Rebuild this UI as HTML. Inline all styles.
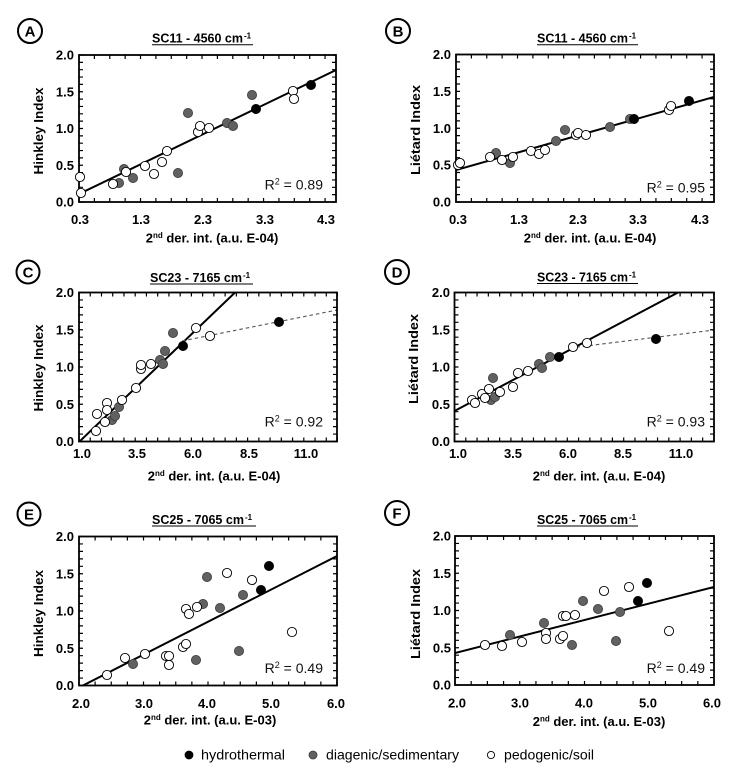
<!DOCTYPE html>
<html><head><meta charset="utf-8"><style>
html,body{margin:0;padding:0;background:#fff;}
svg{display:block;font-family:"Liberation Sans",Arial,sans-serif;}
.tl{font-size:13px;font-weight:bold;fill:#000;}
.ax{font-size:13px;font-weight:bold;fill:#000;}
.r2{font-size:14px;fill:#111;}
.ti{font-size:12.5px;font-weight:bold;fill:#000;}
.lg{font-size:14px;fill:#000;}
.w{fill:#fff;stroke:#000;stroke-width:0.9;}
.g{fill:#616161;stroke:#3a3a3a;stroke-width:0.8;}
.b{fill:#000;stroke:#000;stroke-width:0.8;}
.pt circle{r:4.6px;}
.box{fill:none;stroke:#000;stroke-width:1.8;}
.tk{stroke:#000;stroke-width:4;fill:none;}
.fit{stroke:#000;stroke-width:2;fill:none;}
.dash{stroke:#555;stroke-width:1.1;stroke-dasharray:3.5 3;fill:none;}
.lab{fill:none;stroke:#000;stroke-width:2;}
.lt{font-size:15px;font-weight:bold;fill:#000;}
</style></head><body>
<svg width="735" height="778" viewBox="0 0 735 778" xmlns="http://www.w3.org/2000/svg">
<rect width="735" height="778" fill="#fff"/>

<!-- ================= PANEL A ================= -->
<circle class="lab" cx="30" cy="31" r="12"/>
<text class="lt" x="30" y="36.5" text-anchor="middle">A</text>
<text class="ti" x="152" y="42.5" textLength="91" lengthAdjust="spacingAndGlyphs">SC11 - 4560 cm</text>
<text x="244" y="38.5" font-size="8" font-weight="bold">-1</text>
<line x1="152" y1="44.8" x2="253" y2="44.8" stroke="#000" stroke-width="1"/>
<clipPath id="cA"><rect x="79" y="55" width="257" height="147"/></clipPath>
<g clip-path="url(#cA)">
<line class="fit" x1="79" y1="194" x2="336" y2="70"/>
</g>
<line class="tk" x1="78.4" y1="200" x2="337" y2="200" stroke-dasharray="1.2 14.18"/>
<line class="tk" x1="78.4" y1="57" x2="337" y2="57" stroke-dasharray="1.2 14.18"/>
<line class="tk" x1="81" y1="202.6" x2="81" y2="54" stroke-dasharray="1.2 6.15"/>
<line class="tk" x1="334" y1="202.6" x2="334" y2="54" stroke-dasharray="1.2 6.15"/>
<rect class="box" x="79" y="55" width="257" height="147"/>
<g class="pt">
<circle class="g" cx="119" cy="183" r="4.6"/><circle class="g" cx="124" cy="169" r="4.6"/><circle class="g" cx="133" cy="178" r="4.6"/><circle class="g" cx="178" cy="173" r="4.6"/><circle class="g" cx="188" cy="113" r="4.6"/><circle class="g" cx="227" cy="123" r="4.6"/><circle class="g" cx="233" cy="126" r="4.6"/><circle class="g" cx="252" cy="95" r="4.6"/>
<circle class="w" cx="80" cy="177" r="4.6"/><circle class="w" cx="81" cy="193" r="4.6"/><circle class="w" cx="113" cy="184" r="4.6"/><circle class="w" cx="126" cy="172" r="4.6"/><circle class="w" cx="145" cy="166" r="4.6"/><circle class="w" cx="154" cy="174" r="4.6"/><circle class="w" cx="162" cy="162" r="4.6"/><circle class="w" cx="167" cy="151" r="4.6"/><circle class="w" cx="198" cy="132" r="4.6"/><circle class="w" cx="200" cy="126" r="4.6"/><circle class="w" cx="209" cy="128" r="4.6"/><circle class="w" cx="293" cy="91" r="4.6"/><circle class="w" cx="294" cy="99" r="4.6"/>
<circle class="b" cx="256" cy="109" r="4.6"/><circle class="b" cx="311" cy="85" r="4.6"/>
</g>
<g class="tl" text-anchor="end">
<text x="74" y="59.5">2.0</text><text x="74" y="96.3">1.5</text><text x="74" y="133">1.0</text><text x="74" y="169.8">0.5</text><text x="74" y="206.5">0.0</text>
</g>
<g class="tl" text-anchor="middle">
<text x="80" y="224">0.3</text><text x="141" y="224">1.3</text><text x="203" y="224">2.3</text><text x="265" y="224">3.3</text><text x="326" y="224">4.3</text>
</g>
<text class="ax" transform="translate(43,131) rotate(-90)" text-anchor="middle" textLength="87" lengthAdjust="spacingAndGlyphs">Hinkley Index</text>
<text class="ax" x="212" y="242.5" text-anchor="middle">2<tspan font-size="8" dy="-4.5">nd</tspan><tspan dy="4.5"> der. int. (a.u. E-04)</tspan></text>
<text class="r2" x="323" y="189.5" text-anchor="end">R<tspan font-size="9" dy="-5">2</tspan><tspan dy="5"> = 0.89</tspan></text>

<!-- ================= PANEL B ================= -->
<circle class="lab" cx="398" cy="31" r="12"/>
<text class="lt" x="398" y="36.5" text-anchor="middle">B</text>
<text class="ti" x="537" y="42.5" textLength="91" lengthAdjust="spacingAndGlyphs">SC11 - 4560 cm</text>
<text x="629" y="38.5" font-size="8" font-weight="bold">-1</text>
<line x1="537" y1="44.8" x2="638" y2="44.8" stroke="#000" stroke-width="1"/>
<clipPath id="cB"><rect x="456" y="54.5" width="258" height="147.5"/></clipPath>
<g clip-path="url(#cB)">
<line class="fit" x1="456" y1="170" x2="714" y2="97"/>
</g>
<line class="tk" x1="455.4" y1="200" x2="715" y2="200" stroke-dasharray="1.2 14.18"/>
<line class="tk" x1="455.4" y1="56.5" x2="715" y2="56.5" stroke-dasharray="1.2 14.18"/>
<line class="tk" x1="458" y1="202.6" x2="458" y2="53.5" stroke-dasharray="1.2 6.175"/>
<line class="tk" x1="712" y1="202.6" x2="712" y2="53.5" stroke-dasharray="1.2 6.175"/>
<rect class="box" x="456" y="54.5" width="258" height="147.5"/>
<g class="pt">
<circle class="g" cx="496" cy="153" r="4.6"/><circle class="g" cx="510" cy="163" r="4.6"/><circle class="g" cx="556" cy="141" r="4.6"/><circle class="g" cx="565" cy="130" r="4.6"/><circle class="g" cx="610" cy="127" r="4.6"/><circle class="g" cx="630" cy="119" r="4.6"/>
<circle class="w" cx="458" cy="165" r="4.6"/><circle class="w" cx="460" cy="163" r="4.6"/><circle class="w" cx="490" cy="157" r="4.6"/><circle class="w" cx="502" cy="160" r="4.6"/><circle class="w" cx="513" cy="157" r="4.6"/><circle class="w" cx="531" cy="151" r="4.6"/><circle class="w" cx="539" cy="154" r="4.6"/><circle class="w" cx="545" cy="150" r="4.6"/><circle class="w" cx="576" cy="135" r="4.6"/><circle class="w" cx="578" cy="133" r="4.6"/><circle class="w" cx="586" cy="135" r="4.6"/><circle class="w" cx="669" cy="110" r="4.6"/><circle class="w" cx="671" cy="106" r="4.6"/>
<circle class="b" cx="634" cy="119" r="4.6"/><circle class="b" cx="689" cy="101" r="4.6"/>
</g>
<g class="tl" text-anchor="end">
<text x="451" y="59">2.0</text><text x="451" y="95.9">1.5</text><text x="451" y="132.8">1.0</text><text x="451" y="169.6">0.5</text><text x="451" y="206.5">0.0</text>
</g>
<g class="tl" text-anchor="middle">
<text x="458" y="224">0.3</text><text x="519" y="224">1.3</text><text x="578" y="224">2.3</text><text x="638" y="224">3.3</text><text x="700" y="224">4.3</text>
</g>
<text class="ax" transform="translate(420,130) rotate(-90)" text-anchor="middle" textLength="90" lengthAdjust="spacingAndGlyphs">Liétard Index</text>
<text class="ax" x="590" y="242.5" text-anchor="middle">2<tspan font-size="8" dy="-4.5">nd</tspan><tspan dy="4.5"> der. int. (a.u. E-04)</tspan></text>
<text class="r2" x="705" y="192.5" text-anchor="end">R<tspan font-size="9" dy="-5">2</tspan><tspan dy="5"> = 0.95</tspan></text>

<!-- ================= PANEL C ================= -->
<circle class="lab" cx="28" cy="272" r="11.5"/>
<text class="lt" x="28" y="277.5" text-anchor="middle">C</text>
<text class="ti" x="150" y="282" textLength="92" lengthAdjust="spacingAndGlyphs">SC23 - 7165 cm</text>
<text x="243" y="278" font-size="8" font-weight="bold">-1</text>
<line x1="150" y1="284" x2="253" y2="284" stroke="#000" stroke-width="1"/>
<clipPath id="cC"><rect x="79" y="292.5" width="258" height="149"/></clipPath>
<g clip-path="url(#cC)">
<line class="fit" x1="79" y1="442" x2="235" y2="292.5"/>
<line class="dash" x1="182" y1="341" x2="337" y2="310"/>
</g>
<line class="tk" x1="78.4" y1="439.5" x2="338" y2="439.5" stroke-dasharray="1.2 10.04"/>
<line class="tk" x1="78.4" y1="294.5" x2="338" y2="294.5" stroke-dasharray="1.2 10.04"/>
<line class="tk" x1="81" y1="442.1" x2="81" y2="291.5" stroke-dasharray="1.2 6.25"/>
<line class="tk" x1="335" y1="442.1" x2="335" y2="291.5" stroke-dasharray="1.2 6.25"/>
<rect class="box" x="79" y="292.5" width="258" height="149"/>
<g class="pt">
<circle class="g" cx="112" cy="420" r="4.6"/><circle class="g" cx="115" cy="416" r="4.6"/><circle class="g" cx="119" cy="407" r="4.6"/><circle class="g" cx="160" cy="360" r="4.6"/><circle class="g" cx="163" cy="364" r="4.6"/><circle class="g" cx="165" cy="351" r="4.6"/><circle class="g" cx="173" cy="333" r="4.6"/>
<circle class="w" cx="96" cy="431" r="4.6"/><circle class="w" cx="97" cy="414" r="4.6"/><circle class="w" cx="105" cy="422" r="4.6"/><circle class="w" cx="107" cy="403" r="4.6"/><circle class="w" cx="107" cy="410" r="4.6"/><circle class="w" cx="122" cy="400" r="4.6"/><circle class="w" cx="136" cy="388" r="4.6"/><circle class="w" cx="141" cy="369" r="4.6"/><circle class="w" cx="141" cy="365" r="4.6"/><circle class="w" cx="151" cy="364" r="4.6"/><circle class="w" cx="196" cy="328" r="4.6"/><circle class="w" cx="210" cy="336" r="4.6"/>
<circle class="b" cx="183" cy="346" r="4.6"/><circle class="b" cx="279" cy="322" r="4.6"/>
</g>
<g class="tl" text-anchor="end">
<text x="74" y="297">2.0</text><text x="74" y="334.3">1.5</text><text x="74" y="371.5">1.0</text><text x="74" y="408.8">0.5</text><text x="74" y="446">0.0</text>
</g>
<g class="tl" text-anchor="middle">
<text x="82" y="458">1.0</text><text x="137" y="458">3.5</text><text x="193" y="458">6.0</text><text x="249" y="458">8.5</text><text x="306" y="458">11.0</text>
</g>
<text class="ax" transform="translate(43,368) rotate(-90)" text-anchor="middle" textLength="87" lengthAdjust="spacingAndGlyphs">Hinkley Index</text>
<text class="ax" x="214" y="480.5" text-anchor="middle">2<tspan font-size="8" dy="-4.5">nd</tspan><tspan dy="4.5"> der. int. (a.u. E-04)</tspan></text>
<text class="r2" x="323" y="426.7" text-anchor="end">R<tspan font-size="9" dy="-5">2</tspan><tspan dy="5"> = 0.92</tspan></text>

<!-- ================= PANEL D ================= -->
<circle class="lab" cx="397" cy="272" r="12"/>
<text class="lt" x="397" y="277.5" text-anchor="middle">D</text>
<text class="ti" x="537" y="281.5" textLength="91" lengthAdjust="spacingAndGlyphs">SC23 - 7165 cm</text>
<text x="629" y="277.5" font-size="8" font-weight="bold">-1</text>
<line x1="537" y1="283.5" x2="638" y2="283.5" stroke="#000" stroke-width="1"/>
<clipPath id="cD"><rect x="454.5" y="292.5" width="259.5" height="149"/></clipPath>
<g clip-path="url(#cD)">
<line class="fit" x1="454.5" y1="411" x2="678" y2="292.5"/>
<line class="dash" x1="570" y1="348" x2="714" y2="330"/>
</g>
<line class="tk" x1="453.9" y1="439.5" x2="715" y2="439.5" stroke-dasharray="1.2 10.08"/>
<line class="tk" x1="453.9" y1="294.5" x2="715" y2="294.5" stroke-dasharray="1.2 10.08"/>
<line class="tk" x1="456.5" y1="442.1" x2="456.5" y2="291.5" stroke-dasharray="1.2 6.25"/>
<line class="tk" x1="712" y1="442.1" x2="712" y2="291.5" stroke-dasharray="1.2 6.25"/>
<rect class="box" x="454.5" y="292.5" width="259.5" height="149"/>
<g class="pt">
<circle class="g" cx="493" cy="378" r="4.6"/><circle class="g" cx="491" cy="400" r="4.6"/><circle class="g" cx="495" cy="397" r="4.6"/><circle class="g" cx="539" cy="364" r="4.6"/><circle class="g" cx="542" cy="368" r="4.6"/><circle class="g" cx="550" cy="357" r="4.6"/>
<circle class="w" cx="472" cy="400" r="4.6"/><circle class="w" cx="475" cy="403" r="4.6"/><circle class="w" cx="482" cy="394" r="4.6"/><circle class="w" cx="485" cy="398" r="4.6"/><circle class="w" cx="489" cy="389" r="4.6"/><circle class="w" cx="500" cy="392" r="4.6"/><circle class="w" cx="513" cy="387" r="4.6"/><circle class="w" cx="518" cy="373" r="4.6"/><circle class="w" cx="528" cy="371" r="4.6"/><circle class="w" cx="573" cy="347" r="4.6"/><circle class="w" cx="587" cy="343" r="4.6"/>
<circle class="b" cx="559" cy="357" r="4.6"/><circle class="b" cx="656" cy="339" r="4.6"/>
</g>
<g class="tl" text-anchor="end">
<text x="450" y="297">2.0</text><text x="450" y="334.3">1.5</text><text x="450" y="371.5">1.0</text><text x="450" y="408.8">0.5</text><text x="450" y="446">0.0</text>
</g>
<g class="tl" text-anchor="middle">
<text x="458" y="458">1.0</text><text x="513" y="458">3.5</text><text x="568" y="458">6.0</text><text x="623" y="458">8.5</text><text x="681" y="458">11.0</text>
</g>
<text class="ax" transform="translate(418,359) rotate(-90)" text-anchor="middle" textLength="90" lengthAdjust="spacingAndGlyphs">Liétard Index</text>
<text class="ax" x="599" y="480.5" text-anchor="middle">2<tspan font-size="8" dy="-4.5">nd</tspan><tspan dy="4.5"> der. int. (a.u. E-04)</tspan></text>
<text class="r2" x="705" y="426.7" text-anchor="end">R<tspan font-size="9" dy="-5">2</tspan><tspan dy="5"> = 0.93</tspan></text>

<!-- ================= PANEL E ================= -->
<circle class="lab" cx="29" cy="514" r="11.5"/>
<text class="lt" x="29" y="519.5" text-anchor="middle">E</text>
<text class="ti" x="152" y="524" textLength="92" lengthAdjust="spacingAndGlyphs">SC25 - 7065 cm</text>
<text x="245" y="520" font-size="8" font-weight="bold">-1</text>
<line x1="152" y1="526" x2="256" y2="526" stroke="#000" stroke-width="1"/>
<clipPath id="cE"><rect x="79" y="536.5" width="258" height="149"/></clipPath>
<g clip-path="url(#cE)">
<line class="fit" x1="82" y1="686" x2="337" y2="556"/>
</g>
<line class="tk" x1="78.4" y1="683.5" x2="338" y2="683.5" stroke-dasharray="1.2 14.925"/>
<line class="tk" x1="78.4" y1="538.5" x2="338" y2="538.5" stroke-dasharray="1.2 14.925"/>
<line class="tk" x1="81" y1="686.1" x2="81" y2="535.5" stroke-dasharray="1.2 6.25"/>
<line class="tk" x1="335" y1="686.1" x2="335" y2="535.5" stroke-dasharray="1.2 6.25"/>
<rect class="box" x="79" y="536.5" width="258" height="149"/>
<g class="pt">
<circle class="g" cx="133" cy="664" r="4.6"/><circle class="g" cx="196" cy="660" r="4.6"/><circle class="g" cx="203" cy="604" r="4.6"/><circle class="g" cx="207" cy="577" r="4.6"/><circle class="g" cx="220" cy="608" r="4.6"/><circle class="g" cx="239" cy="651" r="4.6"/><circle class="g" cx="243" cy="595" r="4.6"/>
<circle class="w" cx="107" cy="675" r="4.6"/><circle class="w" cx="125" cy="658" r="4.6"/><circle class="w" cx="145" cy="654" r="4.6"/><circle class="w" cx="166" cy="656" r="4.6"/><circle class="w" cx="169" cy="656" r="4.6"/><circle class="w" cx="169" cy="665" r="4.6"/><circle class="w" cx="183" cy="647" r="4.6"/><circle class="w" cx="186" cy="644" r="4.6"/><circle class="w" cx="186" cy="609" r="4.6"/><circle class="w" cx="189" cy="614" r="4.6"/><circle class="w" cx="197" cy="607" r="4.6"/><circle class="w" cx="227" cy="573" r="4.6"/><circle class="w" cx="252" cy="580" r="4.6"/><circle class="w" cx="292" cy="632" r="4.6"/>
<circle class="b" cx="261" cy="590" r="4.6"/><circle class="b" cx="269" cy="566" r="4.6"/>
</g>
<g class="tl" text-anchor="end">
<text x="74" y="541">2.0</text><text x="74" y="578.3">1.5</text><text x="74" y="615.5">1.0</text><text x="74" y="652.8">0.5</text><text x="74" y="690">0.0</text>
</g>
<g class="tl" text-anchor="middle">
<text x="81" y="708">2.0</text><text x="144" y="708">3.0</text><text x="207" y="708">4.0</text><text x="271" y="708">5.0</text><text x="336" y="708">6.0</text>
</g>
<text class="ax" transform="translate(43,613.5) rotate(-90)" text-anchor="middle" textLength="87" lengthAdjust="spacingAndGlyphs">Hinkley Index</text>
<text class="ax" x="210" y="724.5" text-anchor="middle">2<tspan font-size="8" dy="-4.5">nd</tspan><tspan dy="4.5"> der. int. (a.u. E-03)</tspan></text>
<text class="r2" x="323" y="673" text-anchor="end">R<tspan font-size="9" dy="-5">2</tspan><tspan dy="5"> = 0.49</tspan></text>

<!-- ================= PANEL F ================= -->
<circle class="lab" cx="397" cy="513" r="12"/>
<text class="lt" x="397" y="518.5" text-anchor="middle">F</text>
<text class="ti" x="537" y="524" textLength="91" lengthAdjust="spacingAndGlyphs">SC25 - 7065 cm</text>
<text x="629" y="520" font-size="8" font-weight="bold">-1</text>
<line x1="537" y1="526" x2="638" y2="526" stroke="#000" stroke-width="1"/>
<clipPath id="cF"><rect x="455" y="536" width="259" height="149"/></clipPath>
<g clip-path="url(#cF)">
<line class="fit" x1="455" y1="653" x2="714" y2="587"/>
</g>
<line class="tk" x1="454.4" y1="683" x2="715" y2="683" stroke-dasharray="1.2 14.99"/>
<line class="tk" x1="454.4" y1="538" x2="715" y2="538" stroke-dasharray="1.2 14.99"/>
<line class="tk" x1="457" y1="685.6" x2="457" y2="535" stroke-dasharray="1.2 6.25"/>
<line class="tk" x1="712" y1="685.6" x2="712" y2="535" stroke-dasharray="1.2 6.25"/>
<rect class="box" x="455" y="536" width="259" height="149"/>
<g class="pt">
<circle class="g" cx="510" cy="635" r="4.6"/><circle class="g" cx="544" cy="623" r="4.6"/><circle class="g" cx="572" cy="645" r="4.6"/><circle class="g" cx="583" cy="601" r="4.6"/><circle class="g" cx="598" cy="609" r="4.6"/><circle class="g" cx="616" cy="641" r="4.6"/><circle class="g" cx="620" cy="612" r="4.6"/>
<circle class="w" cx="485" cy="645" r="4.6"/><circle class="w" cx="502" cy="646" r="4.6"/><circle class="w" cx="522" cy="642" r="4.6"/><circle class="w" cx="546" cy="633" r="4.6"/><circle class="w" cx="546" cy="639" r="4.6"/><circle class="w" cx="560" cy="639" r="4.6"/><circle class="w" cx="563" cy="636" r="4.6"/><circle class="w" cx="563" cy="616" r="4.6"/><circle class="w" cx="566" cy="616" r="4.6"/><circle class="w" cx="575" cy="615" r="4.6"/><circle class="w" cx="604" cy="591" r="4.6"/><circle class="w" cx="629" cy="587" r="4.6"/><circle class="w" cx="669" cy="631" r="4.6"/>
<circle class="b" cx="638" cy="601" r="4.6"/><circle class="b" cx="647" cy="583" r="4.6"/>
</g>
<g class="tl" text-anchor="end">
<text x="451" y="540.5">2.0</text><text x="451" y="577.8">1.5</text><text x="451" y="615">1.0</text><text x="451" y="652.3">0.5</text><text x="451" y="689.5">0.0</text>
</g>
<g class="tl" text-anchor="middle">
<text x="457" y="707.5">2.0</text><text x="520" y="707.5">3.0</text><text x="584" y="707.5">4.0</text><text x="648" y="707.5">5.0</text><text x="712" y="707.5">6.0</text>
</g>
<text class="ax" transform="translate(420,614) rotate(-90)" text-anchor="middle" textLength="90" lengthAdjust="spacingAndGlyphs">Liétard Index</text>
<text class="ax" x="599" y="726" text-anchor="middle">2<tspan font-size="8" dy="-4.5">nd</tspan><tspan dy="4.5"> der. int. (a.u. E-03)</tspan></text>
<text class="r2" x="705" y="673" text-anchor="end">R<tspan font-size="9" dy="-5">2</tspan><tspan dy="5"> = 0.49</tspan></text>

<!-- ================= LEGEND ================= -->
<circle class="b" cx="189" cy="755" r="4"/>
<text class="lg" x="201" y="759.5" textLength="84" lengthAdjust="spacingAndGlyphs">hydrothermal</text>
<circle class="g" cx="313" cy="755" r="4"/>
<text class="lg" x="326" y="759.5" textLength="133" lengthAdjust="spacingAndGlyphs">diagenic/sedimentary</text>
<circle class="w" cx="491" cy="755" r="3.6"/>
<text class="lg" x="504" y="759.5" textLength="90" lengthAdjust="spacingAndGlyphs">pedogenic/soil</text>
</svg>
</body></html>
